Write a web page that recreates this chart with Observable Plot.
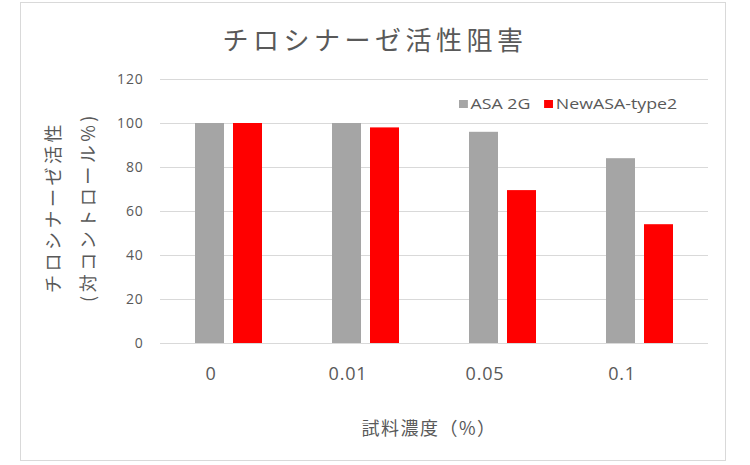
<!DOCTYPE html>
<html>
<head>
<meta charset="utf-8">
<script src="https://cdn.jsdelivr.net/npm/d3@7"></script>
<script src="https://cdn.jsdelivr.net/npm/@observablehq/plot@0.6"></script>
<style>
  body { margin: 0; background: #fff; }
  #wrap { position: relative; width: 750px; height: 465px; font-family: "Noto Sans CJK JP", "Noto Sans", sans-serif; color: #595959; }
  #frame { position: absolute; left: 20px; top: 2px; width: 706px; height: 459px; border: 1px solid #d9d9d9; box-sizing: border-box; }
  #title { position: absolute; left: 0; width: 750px; top: 20px; text-align: center; font-size: 26px; letter-spacing: 4.5px; }
  .ytitle { position: absolute; width: 240px; text-align: center; font-size: 18px; letter-spacing: 3.5px; transform: rotate(-90deg); transform-origin: center center; white-space: nowrap; }
  #xtitle { position: absolute; left: 329px; width: 200px; top: 414px; text-align: center; font-size: 18px; letter-spacing: 1.5px; }
  #legend { position: absolute; top: 94px; left: 459px; font-family: "Open Sans", "Noto Sans", sans-serif; font-size: 14px; display: flex; gap: 11px; align-items: center; transform: scaleX(1.27); transform-origin: left center; white-space: nowrap; }
  .sw { display: inline-block; width: 7px; height: 8px; margin-right: 2px; vertical-align: middle; position: relative; top: -1px; }
  #chart { position: absolute; left: 0; top: 0; }
</style>
</head>
<body>
<div id="wrap">
  <div id="frame"></div>
  <div id="chart"></div>
  <div id="title"></div>
  <div class="ytitle" id="yt1"></div>
  <div class="ytitle" id="yt2"></div>
  <div id="xtitle"></div>
  <div id="legend"></div>
</div>
<script>
const chartTitle = "チロシナーゼ活性阻害";
const yTitleLines = ["チロシナーゼ活性", "(対コントロール%)"];
const xTitle = "試料濃度（%）";
const concentrations = ["0", "0.01", "0.05", "0.1"];
const seriesNames = ["ASA 2G", "NewASA-type2"];
const seriesColors = ["#a5a5a5", "#ff0000"];
const asa2g = [100, 100, 96, 84];
const newAsaType2 = [100, 98, 69.5, 54];
const yTicks = [0, 20, 40, 60, 80, 100, 120];

const data = [];
concentrations.forEach((c, i) => {
  data.push({conc: c, series: seriesNames[0], value: asa2g[i]});
  data.push({conc: c, series: seriesNames[1], value: newAsaType2[i]});
});

document.getElementById("title").textContent = chartTitle;
document.getElementById("xtitle").textContent = xTitle;
const yt1 = document.getElementById("yt1");
const yt2 = document.getElementById("yt2");
yt1.textContent = yTitleLines[0];
yt2.textContent = yTitleLines[1];
yt1.style.left = (52 - 120) + "px"; yt1.style.top = (207 - 13) + "px";
yt2.style.left = (87 - 120) + "px"; yt2.style.top = (207 - 13) + "px";

const legend = document.getElementById("legend");
seriesNames.forEach((n, i) => {
  const s = document.createElement("span");
  s.innerHTML = `<span class="sw" style="background:${seriesColors[i]}"></span>${n}`;
  legend.appendChild(s);
});

const chart = Plot.plot({
  width: 750,
  height: 465,
  marginLeft: 160,
  marginRight: 42,
  marginTop: 79,
  marginBottom: 122,
  style: {fontFamily: "'Open Sans', 'Noto Sans', sans-serif", color: "#595959", background: "transparent", letterSpacing: "0.8px"},
  fx: {domain: concentrations, padding: 0, label: null, axis: null},
  x: {domain: seriesNames, paddingInner: 0.23, paddingOuter: 0.88, axis: null},
  y: {domain: [0, 120], ticks: yTicks, label: null},
  color: {domain: seriesNames, range: seriesColors},
  marks: [
    Plot.ruleY(yTicks, {stroke: "#d9d9d9", strokeWidth: 1}),
    Plot.barY(data, {fx: "conc", x: "series", y: "value", fill: "series"}),
    Plot.axisY({ticks: yTicks, tickSize: 0, tickPadding: 17, fontSize: 14, label: null}),
    Plot.axisFx({anchor: "bottom", domain: concentrations, tickSize: 0, tickPadding: 24, fontSize: 18, label: null, dx: -18})
  ]
});
document.getElementById("chart").appendChild(chart);
</script>
</body>
</html>
